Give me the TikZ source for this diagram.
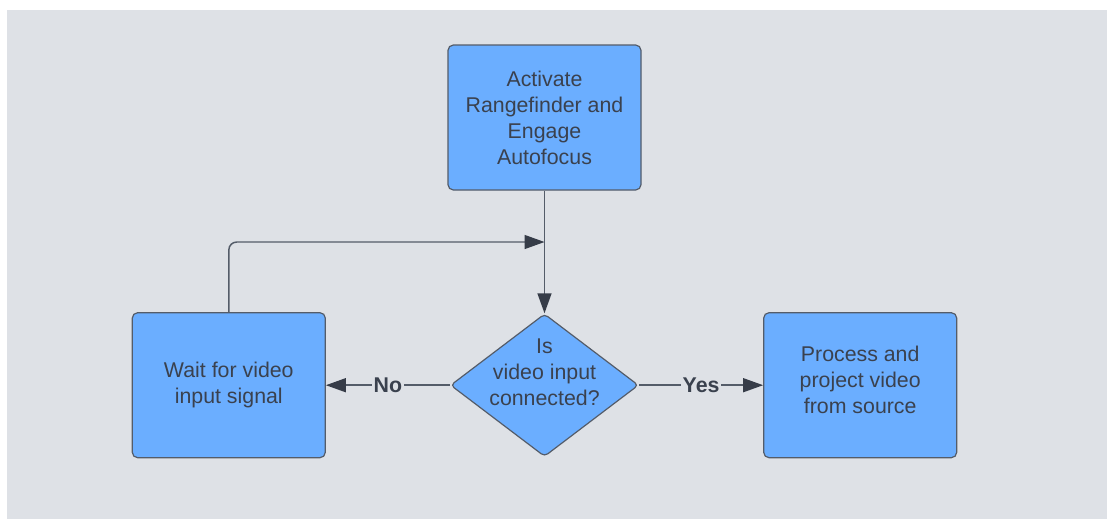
\documentclass[tikz,border=0pt]{standalone}
\usepackage{fontspec}
\setmainfont{Liberation Sans}
\usetikzlibrary{arrows.meta,positioning,shapes.geometric}

\definecolor{canvas}{RGB}{222,225,230}
\definecolor{boxblue}{RGB}{107,174,255}
\definecolor{edgegray}{RGB}{84,92,105}
\definecolor{inkgray}{RGB}{58,65,78}
\definecolor{tipgray}{RGB}{54,60,72}

\begin{document}
\begin{tikzpicture}[
        x=0.75pt, y=-0.75pt,
        node distance=92pt and 93pt,
        box/.style={draw=edgegray, fill=boxblue, rounded corners=4pt, line width=0.9pt,
                    align=center, minimum width=144.75pt, minimum height=108.75pt,
                    text=inkgray, font=\fontsize{16}{19.5}\selectfont},
        decision/.style={diamond, draw=edgegray, fill=boxblue, rounded corners=3pt,
                    line width=0.9pt, minimum width=141pt, minimum height=107pt, inner sep=0pt},
        flow/.style={-{Triangle[length=15pt,width=10.5pt,color=tipgray]}, line width=1.1pt, draw=edgegray},
        tag/.style={fill=canvas, inner sep=1.5pt, text=inkgray,
                    font=\bfseries\fontsize{16}{19.5}\selectfont}
    ]
        \fill[white] (0,0) rectangle (1107,519);
        \fill[canvas] (7,10) rectangle (1107,519);

        \node[box] (activate) at (544.5,117.5)
            {Activate\\Rangefinder and\\Engage\\Autofocus};
        \node[decision, below=of activate,
              label={[align=center, text=inkgray, yshift=10pt,
                      font=\fontsize{16}{19.5}\selectfont]center:Is\\video input\\connected?}]
            (check) {};
        \node[box, left=of check] (wait) {Wait for video\\input signal};
        \node[box, right=of check] (project) {Process and\\project video\\from source\\[-12pt]};

        \coordinate (merge) at (activate.south |- 0,242);

        \draw[flow] (activate) -- (check);
        \draw[flow, rounded corners=6pt] (wait.north) |- (merge);
        \draw[flow] (check.west) -- node[tag] {No} (wait.east);
        \draw[flow] (check.east) -- node[tag] {Yes} (project.west);
    \end{tikzpicture}
\end{document}
